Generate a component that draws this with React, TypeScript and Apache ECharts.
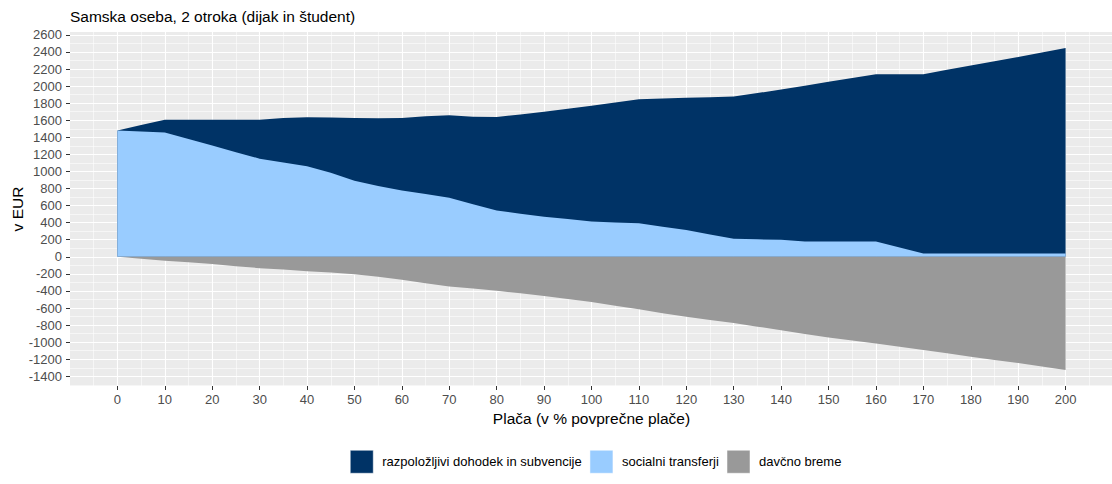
import React, { useEffect, useRef } from "react";
import * as echarts from "echarts";

const chartTitle = "Samska oseba, 2 otroka (dijak in študent)";
const xTitle = "Plača (v % povprečne plače)";
const yTitle = "v EUR";
const seriesNames = ["razpoložljivi dohodek in subvencije", "socialni transferji", "davčno breme"];

const salaryPct = [0, 5, 10, 15, 20, 25, 30, 35, 40, 45, 50, 55, 60, 65, 70, 75, 80, 85, 90, 95, 100, 105, 110, 115, 120, 125, 130, 135, 140, 145, 150, 155, 160, 165, 170, 175, 180, 185, 190, 195, 200];

// upper edge of the dark area (disposable income incl. subsidies, on top of transfers)
const totalIncome = [1480, 1545, 1607, 1607, 1607, 1607, 1607, 1625, 1635, 1633, 1625, 1623, 1625, 1648, 1658, 1642, 1637, 1668, 1700, 1735, 1770, 1808, 1846, 1854, 1862, 1870, 1877, 1918, 1960, 2005, 2050, 2095, 2140, 2140, 2140, 2190, 2240, 2290, 2340, 2392, 2445];

const socialTransfers = [1480, 1468, 1457, 1380, 1305, 1225, 1150, 1105, 1060, 985, 890, 830, 778, 735, 692, 615, 542, 505, 470, 442, 415, 402, 392, 352, 315, 262, 211, 205, 200, 178, 178, 178, 178, 110, 40, 40, 40, 40, 40, 40, 40];

const taxBurden = [0, -22, -45, -65, -85, -110, -133, -150, -168, -185, -203, -235, -270, -310, -347, -372, -397, -428, -460, -495, -530, -572, -615, -660, -703, -740, -775, -818, -860, -903, -946, -980, -1015, -1053, -1091, -1130, -1170, -1208, -1245, -1285, -1325];

const yMajorTicks = [-1400, -1200, -1000, -800, -600, -400, -200, 0, 200, 400, 600, 800, 1000, 1200, 1400, 1600, 1800, 2000, 2200, 2400, 2600];
const yMinorTicks = [-1500, -1300, -1100, -900, -700, -500, -300, -100, 100, 300, 500, 700, 900, 1100, 1300, 1500, 1700, 1900, 2100, 2300, 2500];
const xMajorTicks = [0, 10, 20, 30, 40, 50, 60, 70, 80, 90, 100, 110, 120, 130, 140, 150, 160, 170, 180, 190, 200];
const xMinorTicks = [-5, 5, 15, 25, 35, 45, 55, 65, 75, 85, 95, 105, 115, 125, 135, 145, 155, 165, 175, 185, 195, 205];

const colors = ["#003366", "#99CCFF", "#999999"];
const FONT = "'Liberation Sans', Arial, sans-serif";

const pairs = (vals: number[]) => salaryPct.map((x, i) => [x, vals[i]]);

export default function App() {
  const ref = useRef<HTMLDivElement>(null);
  useEffect(() => {
    document.body.style.margin = "0";
    if (!ref.current) return;
    const chart = echarts.init(ref.current, null, { renderer: "svg" });
    const xRange = { min: -10, max: 210 };
    const yRange = { min: -1513.5, max: 2633.5 };
    const tickLabel = { color: "#4D4D4D", fontSize: 13, fontFamily: FONT, formatter: (v: number) => String(v) };
    const area = (i: number, vals: number[], z: number) => ({
      name: seriesNames[i],
      type: "line",
      data: pairs(vals),
      showSymbol: false,
      symbol: "none",
      itemStyle: { color: colors[i] },
      lineStyle: { width: 0, opacity: 0 },
      areaStyle: { color: colors[i], opacity: 1, origin: 0 },
      z,
    });
    chart.setOption({
      animation: false,
      textStyle: { fontFamily: FONT },
      title: {
        text: chartTitle,
        left: 70,
        top: 8,
        padding: 0,
        textStyle: { fontSize: 15.5, fontWeight: "normal", color: "#000", fontFamily: FONT },
      },
      grid: {
        left: 70,
        top: 32,
        width: 1043,
        height: 354,
        show: true,
        backgroundColor: "#EBEBEB",
        borderWidth: 0,
        containLabel: false,
        outerBoundsMode: "none",
      },
      legend: {
        left: 350,
        top: 450,
        padding: 0,
        itemWidth: 23,
        itemHeight: 23,
        itemGap: 8,
        icon: "rect",
        textStyle: { fontSize: 13, color: "#000", fontFamily: FONT, padding: [0, 0, 0, 4] },
        data: seriesNames.map((n, i) => ({ name: n, itemStyle: { color: colors[i], borderColor: "#fff", borderWidth: 0.5 } })),
      },
      xAxis: [
        {
          type: "value",
          ...xRange,
          position: "bottom",
          name: xTitle,
          nameLocation: "middle",
          nameGap: 24,
          nameMoveOverlap: false,
          nameTextStyle: { fontSize: 15.5, color: "#000", fontFamily: FONT },
          axisLine: { show: false, onZero: false },
          axisTick: { show: true, length: 4, lineStyle: { color: "#333333", width: 1 }, customValues: xMajorTicks },
          axisLabel: { ...tickLabel, margin: 7, customValues: xMajorTicks },
          splitLine: { show: true, lineStyle: { color: "#FFFFFF", width: 1.1 } },
        },
        {
          type: "value",
          ...xRange,
          position: "top",
          axisLine: { show: false, onZero: false },
          axisTick: { show: false, customValues: xMinorTicks },
          axisLabel: { show: false },
          splitLine: { show: true, lineStyle: { color: "#FFFFFF", width: 0.55 } },
        },
      ],
      yAxis: [
        {
          type: "value",
          ...yRange,
          position: "left",
          name: yTitle,
          nameLocation: "middle",
          nameGap: 45,
          nameRotate: 90,
          nameMoveOverlap: false,
          nameTextStyle: { fontSize: 15.5, color: "#000", fontFamily: FONT },
          axisLine: { show: false, onZero: false },
          axisTick: { show: true, length: 4, lineStyle: { color: "#333333", width: 1 }, customValues: yMajorTicks },
          axisLabel: { ...tickLabel, margin: 8, customValues: yMajorTicks },
          splitLine: { show: true, lineStyle: { color: "#FFFFFF", width: 1.1 } },
        },
        {
          type: "value",
          ...yRange,
          position: "right",
          axisLine: { show: false, onZero: false },
          axisTick: { show: false, customValues: yMinorTicks },
          axisLabel: { show: false },
          splitLine: { show: true, lineStyle: { color: "#FFFFFF", width: 0.55 } },
        },
      ],
      series: [area(0, totalIncome, 2), area(1, socialTransfers, 3), area(2, taxBurden, 3)],
    });
    return () => chart.dispose();
  }, []);
  return <div ref={ref} style={{ width: 1112, height: 484 }} />;
}
